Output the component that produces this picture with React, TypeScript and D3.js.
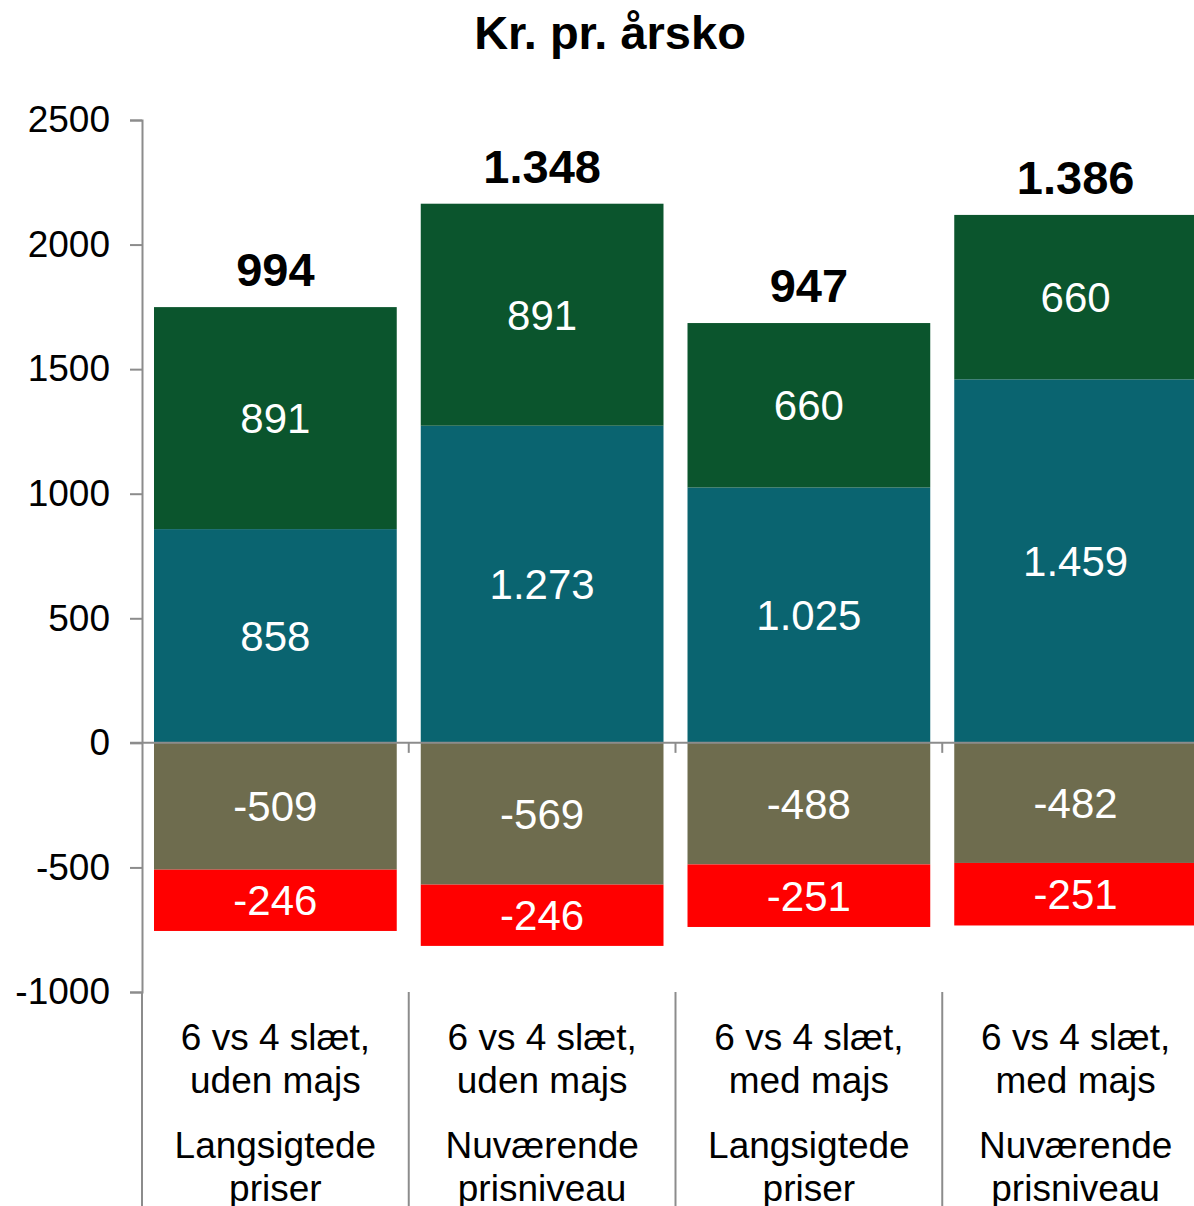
import { useEffect, useRef } from 'react';
import * as d3 from 'd3';

const categories = ['c1', 'c2', 'c3', 'c4'];
const line1 = ['6 vs 4 slæt,', '6 vs 4 slæt,', '6 vs 4 slæt,', '6 vs 4 slæt,'];
const line2 = ['uden majs', 'uden majs', 'med majs', 'med majs'];
const line3 = ['Langsigtede', 'Nuværende', 'Langsigtede', 'Nuværende'];
const line4 = ['priser', 'prisniveau', 'priser', 'prisniveau'];

// positive segments (bottom up)
const teal = [858, 1273, 1025, 1459];
const green = [891, 891, 660, 660];
// negative segments (top down)
const olive = [-509, -569, -488, -482];
const red = [-246, -246, -251, -251];
const totals = [994, 1348, 947, 1386];

const yTicks = [-1000, -500, 0, 500, 1000, 1500, 2000, 2500];

const fmt = (v: number) => {
  const s = Math.abs(v).toString().replace(/\B(?=(\d{3})+(?!\d))/g, '.');
  return (v < 0 ? '-' : '') + s;
};

const App = () => {
  const ref = useRef<SVGSVGElement>(null);

  useEffect(() => {
    const svg = d3.select(ref.current);
    svg.selectAll('*').remove();
    const font = 'Liberation Sans, Arial, sans-serif';

    const y = d3.scaleLinear().domain([-1000, 2500]).range([992, 120]);
    const x = d3.scaleBand().domain(categories).range([142, 1209]).paddingInner(0.09).paddingOuter(0.045);
    const step = x.step();
    const axisColor = '#8c8c8c';

    svg.append('text').text('Kr. pr. årsko')
      .attr('x', 610).attr('y', 49)
      .attr('text-anchor', 'middle')
      .attr('font-family', font).attr('font-weight', 'bold').attr('font-size', 47);

    // bars
    type Seg = { vals: number[]; base: (i: number) => number; color: string };
    const segs: Seg[] = [
      { vals: teal, base: () => 0, color: '#0a6470' },
      { vals: green, base: i => teal[i], color: '#0b552d' },
      { vals: olive, base: () => 0, color: '#6e6c4e' },
      { vals: red, base: i => olive[i], color: '#ff0000' },
    ];
    segs.forEach(s => {
      const g = svg.append('g');
      g.selectAll('rect').data(s.vals).enter().append('rect')
        .attr('x', (d, i) => x(categories[i])!)
        .attr('width', x.bandwidth())
        .attr('y', (d, i) => y(Math.max(s.base(i), s.base(i) + d)))
        .attr('height', d => Math.abs(y(0) - y(d)))
        .attr('fill', s.color);
      g.selectAll('text').data(s.vals).enter().append('text')
        .text(d => fmt(d))
        .attr('x', (d, i) => x(categories[i])! + x.bandwidth() / 2)
        .attr('y', (d, i) => y(s.base(i) + d / 2))
        .attr('dy', '0.36em')
        .attr('text-anchor', 'middle')
        .attr('fill', 'white')
        .attr('font-family', font).attr('font-size', 42);
    });

    // totals
    svg.append('g').selectAll('text').data(totals).enter().append('text')
      .text(d => fmt(d))
      .attr('x', (d, i) => x(categories[i])! + x.bandwidth() / 2)
      .attr('y', (d, i) => y(teal[i] + green[i]) - 38)
      .attr('dy', '0.36em')
      .attr('text-anchor', 'middle')
      .attr('font-family', font).attr('font-weight', 'bold').attr('font-size', 47);

    // y axis
    const yAxis = d3.axisLeft(y).tickValues(yTicks).tickSize(12).tickPadding(20).tickFormat(d => String(d));
    const ga = svg.append('g').attr('transform', 'translate(142,0)').call(yAxis);
    ga.select('.domain').attr('stroke', axisColor).attr('stroke-width', 2);
    ga.selectAll('.tick line').attr('stroke', axisColor).attr('stroke-width', 2);
    ga.selectAll('.tick text').attr('font-family', font).attr('font-size', 37).attr('fill', 'black');

    // zero line
    svg.append('line').attr('x1', 130).attr('x2', 1194).attr('y1', y(0)).attr('y2', y(0))
      .attr('stroke', axisColor).attr('stroke-width', 2);
    // zero-line ticks between categories
    svg.append('g').selectAll('line').data(categories.slice(1)).enter().append('line')
      .attr('x1', d => x(d)! - (step - x.bandwidth()) / 2)
      .attr('x2', d => x(d)! - (step - x.bandwidth()) / 2)
      .attr('y1', y(0)).attr('y2', y(0) + 10)
      .attr('stroke', axisColor).attr('stroke-width', 2);

    // category separators below plot
    svg.append('line').attr('x1', 142).attr('x2', 142).attr('y1', y(-1000)).attr('y2', 1206)
      .attr('stroke', axisColor).attr('stroke-width', 2);
    svg.append('g').selectAll('line').data(categories.slice(1)).enter().append('line')
      .attr('x1', d => x(d)! - (step - x.bandwidth()) / 2)
      .attr('x2', d => x(d)! - (step - x.bandwidth()) / 2)
      .attr('y1', y(-1000)).attr('y2', 1206)
      .attr('stroke', axisColor).attr('stroke-width', 2);

    // category labels
    const lines = [line1, line2, line3, line4];
    const ly = [1037, 1080, 1145, 1188];
    lines.forEach((arr, li) => {
      svg.append('g').selectAll('text').data(arr).enter().append('text')
        .text(d => d)
        .attr('x', (d, i) => x(categories[i])! + x.bandwidth() / 2)
        .attr('y', ly[li])
        .attr('dy', '0.36em')
        .attr('text-anchor', 'middle')
        .attr('font-family', font).attr('font-size', 37);
    });
  }, []);

  return (
    <div>
      <svg ref={ref} width={1194} height={1206}
        style={{ position: 'absolute', left: 0, top: 0, background: 'white' }} />
    </div>
  );
};

export default App;
